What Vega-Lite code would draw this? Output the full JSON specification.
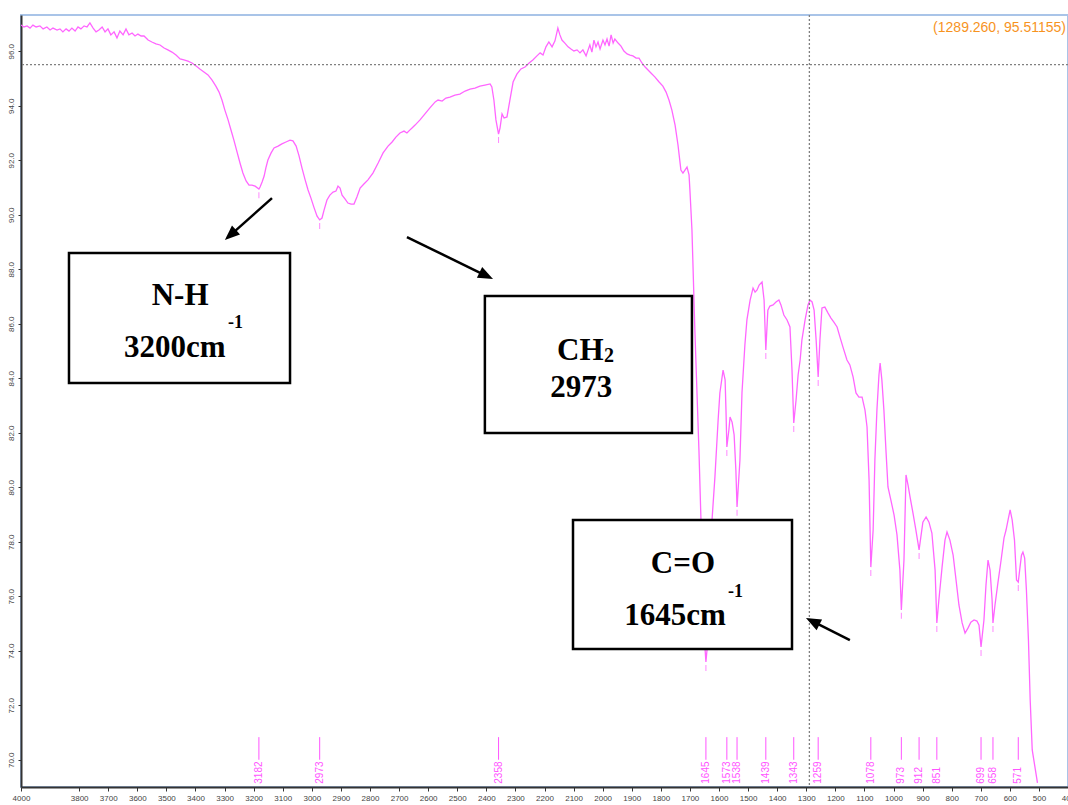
{
  "$schema": "https://vega.github.io/schema/vega-lite/v6.json",
  "width": 1047,
  "height": 772,
  "autosize": "none",
  "padding": {"left": 21, "top": 15, "right": 0, "bottom": 18},
  "background": "white",
  "config": {
    "view": {"stroke": "#a9c4e8", "strokeWidth": 2},
    "axis": {"grid": false, "title": null, "labelFont": "Liberation Sans", "labelFontSize": 8, "labelColor": "#444", "domainColor": "#333", "domainWidth": 2, "tickColor": "#333", "tickSize": 3}
  },
  "datasets": {
    "one": [{}],
    "spectrum": [
      {"wn":4000,"t":96.96},{"wn":3990,"t":96.89},{"wn":3979,"t":96.93},{"wn":3969,"t":96.85},{"wn":3959,"t":96.96},{"wn":3948,"t":96.89},{"wn":3935,"t":96.93},{"wn":3924,"t":96.82},{"wn":3911,"t":96.89},{"wn":3900,"t":96.78},{"wn":3890,"t":96.85},{"wn":3876,"t":96.78},{"wn":3866,"t":96.82},{"wn":3856,"t":96.71},{"wn":3845,"t":96.82},{"wn":3835,"t":96.74},{"wn":3825,"t":96.85},{"wn":3814,"t":96.74},{"wn":3804,"t":96.89},{"wn":3794,"t":96.82},{"wn":3783,"t":96.93},{"wn":3773,"t":96.89},{"wn":3763,"t":97.04},{"wn":3752,"t":96.85},{"wn":3742,"t":96.71},{"wn":3732,"t":96.78},{"wn":3721,"t":96.89},{"wn":3711,"t":96.71},{"wn":3701,"t":96.82},{"wn":3691,"t":96.6},{"wn":3680,"t":96.71},{"wn":3670,"t":96.49},{"wn":3660,"t":96.74},{"wn":3649,"t":96.6},{"wn":3639,"t":96.82},{"wn":3629,"t":96.6},{"wn":3618,"t":96.67},{"wn":3608,"t":96.56},{"wn":3598,"t":96.63},{"wn":3587,"t":96.56},{"wn":3577,"t":96.56},{"wn":3563,"t":96.41},{"wn":3550,"t":96.34},{"wn":3536,"t":96.27},{"wn":3522,"t":96.23},{"wn":3508,"t":96.12},{"wn":3495,"t":96.05},{"wn":3481,"t":95.97},{"wn":3467,"t":95.86},{"wn":3453,"t":95.72},{"wn":3440,"t":95.68},{"wn":3426,"t":95.64},{"wn":3412,"t":95.57},{"wn":3398,"t":95.46},{"wn":3385,"t":95.35},{"wn":3371,"t":95.24},{"wn":3357,"t":95.13},{"wn":3343,"t":94.94},{"wn":3330,"t":94.72},{"wn":3319,"t":94.5},{"wn":3309,"t":94.21},{"wn":3299,"t":93.84},{"wn":3288,"t":93.48},{"wn":3278,"t":93.11},{"wn":3268,"t":92.74},{"wn":3257,"t":92.3},{"wn":3247,"t":91.9},{"wn":3237,"t":91.53},{"wn":3226,"t":91.24},{"wn":3216,"t":91.09},{"wn":3206,"t":91.09},{"wn":3195,"t":91.05},{"wn":3182,"t":90.94},{"wn":3178,"t":91.02},{"wn":3171,"t":91.2},{"wn":3164,"t":91.42},{"wn":3158,"t":91.72},{"wn":3151,"t":92.01},{"wn":3140,"t":92.27},{"wn":3130,"t":92.45},{"wn":3116,"t":92.52},{"wn":3103,"t":92.6},{"wn":3089,"t":92.67},{"wn":3075,"t":92.74},{"wn":3065,"t":92.71},{"wn":3054,"t":92.52},{"wn":3044,"t":92.16},{"wn":3034,"t":91.72},{"wn":3023,"t":91.28},{"wn":3013,"t":90.91},{"wn":3003,"t":90.61},{"wn":2993,"t":90.28},{"wn":2982,"t":89.95},{"wn":2973,"t":89.81},{"wn":2965,"t":89.88},{"wn":2958,"t":90.17},{"wn":2948,"t":90.54},{"wn":2938,"t":90.72},{"wn":2927,"t":90.83},{"wn":2917,"t":90.87},{"wn":2910,"t":91.05},{"wn":2903,"t":90.98},{"wn":2896,"t":90.72},{"wn":2886,"t":90.58},{"wn":2876,"t":90.43},{"wn":2865,"t":90.39},{"wn":2855,"t":90.39},{"wn":2845,"t":90.65},{"wn":2834,"t":90.98},{"wn":2821,"t":91.13},{"wn":2807,"t":91.28},{"wn":2790,"t":91.53},{"wn":2772,"t":91.9},{"wn":2755,"t":92.27},{"wn":2738,"t":92.52},{"wn":2724,"t":92.67},{"wn":2711,"t":92.85},{"wn":2697,"t":93.0},{"wn":2683,"t":93.07},{"wn":2673,"t":93.0},{"wn":2659,"t":93.15},{"wn":2645,"t":93.29},{"wn":2628,"t":93.48},{"wn":2611,"t":93.7},{"wn":2594,"t":93.92},{"wn":2576,"t":94.14},{"wn":2566,"t":94.21},{"wn":2552,"t":94.17},{"wn":2539,"t":94.28},{"wn":2525,"t":94.32},{"wn":2508,"t":94.39},{"wn":2491,"t":94.43},{"wn":2473,"t":94.54},{"wn":2456,"t":94.61},{"wn":2439,"t":94.65},{"wn":2422,"t":94.72},{"wn":2405,"t":94.76},{"wn":2387,"t":94.8},{"wn":2381,"t":94.69},{"wn":2374,"t":94.21},{"wn":2367,"t":93.48},{"wn":2358,"t":92.96},{"wn":2353,"t":93.18},{"wn":2346,"t":93.7},{"wn":2339,"t":93.55},{"wn":2329,"t":93.59},{"wn":2319,"t":94.21},{"wn":2308,"t":94.87},{"wn":2295,"t":95.16},{"wn":2281,"t":95.35},{"wn":2267,"t":95.42},{"wn":2253,"t":95.57},{"wn":2240,"t":95.68},{"wn":2226,"t":95.83},{"wn":2215,"t":95.94},{"wn":2205,"t":95.86},{"wn":2195,"t":96.16},{"wn":2185,"t":96.34},{"wn":2174,"t":96.16},{"wn":2164,"t":96.38},{"wn":2154,"t":96.85},{"wn":2147,"t":96.6},{"wn":2140,"t":96.41},{"wn":2130,"t":96.3},{"wn":2119,"t":96.16},{"wn":2109,"t":96.08},{"wn":2099,"t":96.01},{"wn":2088,"t":96.05},{"wn":2078,"t":95.94},{"wn":2068,"t":96.05},{"wn":2057,"t":95.83},{"wn":2050,"t":96.05},{"wn":2044,"t":96.23},{"wn":2037,"t":95.97},{"wn":2030,"t":96.41},{"wn":2023,"t":96.16},{"wn":2016,"t":96.34},{"wn":2009,"t":96.08},{"wn":1999,"t":96.41},{"wn":1992,"t":96.23},{"wn":1985,"t":96.45},{"wn":1978,"t":96.19},{"wn":1971,"t":96.6},{"wn":1964,"t":96.3},{"wn":1958,"t":96.45},{"wn":1947,"t":96.3},{"wn":1937,"t":96.19},{"wn":1927,"t":96.01},{"wn":1916,"t":95.9},{"wn":1906,"t":95.86},{"wn":1896,"t":95.83},{"wn":1885,"t":95.75},{"wn":1875,"t":95.75},{"wn":1865,"t":95.57},{"wn":1854,"t":95.42},{"wn":1844,"t":95.31},{"wn":1834,"t":95.2},{"wn":1820,"t":95.05},{"wn":1806,"t":94.87},{"wn":1793,"t":94.72},{"wn":1782,"t":94.5},{"wn":1772,"t":94.21},{"wn":1762,"t":93.84},{"wn":1751,"t":93.29},{"wn":1741,"t":92.56},{"wn":1731,"t":91.64},{"wn":1724,"t":91.53},{"wn":1717,"t":91.64},{"wn":1710,"t":91.75},{"wn":1703,"t":91.46},{"wn":1700,"t":90.91},{"wn":1693,"t":89.44},{"wn":1689,"t":87.97},{"wn":1683,"t":85.77},{"wn":1676,"t":83.57},{"wn":1669,"t":81.37},{"wn":1662,"t":78.8},{"wn":1655,"t":76.23},{"wn":1650,"t":74.39},{"wn":1645,"t":73.59},{"wn":1638,"t":74.39},{"wn":1631,"t":76.6},{"wn":1624,"t":78.8},{"wn":1614,"t":80.38},{"wn":1603,"t":82.47},{"wn":1597,"t":83.46},{"wn":1586,"t":84.3},{"wn":1579,"t":83.94},{"wn":1576,"t":82.83},{"wn":1573,"t":81.48},{"wn":1566,"t":82.1},{"wn":1562,"t":82.58},{"wn":1555,"t":82.39},{"wn":1548,"t":81.92},{"wn":1542,"t":80.63},{"wn":1538,"t":79.28},{"wn":1528,"t":81.0},{"wn":1521,"t":83.46},{"wn":1511,"t":85.22},{"wn":1504,"t":86.14},{"wn":1493,"t":86.87},{"wn":1483,"t":87.31},{"wn":1476,"t":87.16},{"wn":1469,"t":87.24},{"wn":1462,"t":87.42},{"wn":1452,"t":87.53},{"wn":1445,"t":86.87},{"wn":1439,"t":85.04},{"wn":1432,"t":86.5},{"wn":1425,"t":86.65},{"wn":1414,"t":86.69},{"wn":1404,"t":86.8},{"wn":1394,"t":86.87},{"wn":1387,"t":86.69},{"wn":1377,"t":86.32},{"wn":1366,"t":86.14},{"wn":1356,"t":85.88},{"wn":1349,"t":84.3},{"wn":1343,"t":82.36},{"wn":1335,"t":83.2},{"wn":1328,"t":84.12},{"wn":1321,"t":84.67},{"wn":1315,"t":85.4},{"wn":1304,"t":86.14},{"wn":1294,"t":86.69},{"wn":1287,"t":86.87},{"wn":1280,"t":86.8},{"wn":1273,"t":86.5},{"wn":1266,"t":85.4},{"wn":1259,"t":84.05},{"wn":1253,"t":85.4},{"wn":1246,"t":86.58},{"wn":1236,"t":86.61},{"wn":1225,"t":86.39},{"wn":1215,"t":86.21},{"wn":1205,"t":86.06},{"wn":1194,"t":85.88},{"wn":1184,"t":85.51},{"wn":1174,"t":85.15},{"wn":1160,"t":84.67},{"wn":1150,"t":84.49},{"wn":1139,"t":84.05},{"wn":1129,"t":83.46},{"wn":1119,"t":83.31},{"wn":1108,"t":83.31},{"wn":1098,"t":82.83},{"wn":1091,"t":82.21},{"wn":1084,"t":80.27},{"wn":1078,"t":77.07},{"wn":1070,"t":78.43},{"wn":1064,"t":81.0},{"wn":1057,"t":82.83},{"wn":1050,"t":84.12},{"wn":1046,"t":84.56},{"wn":1040,"t":83.94},{"wn":1033,"t":82.83},{"wn":1026,"t":81.37},{"wn":1019,"t":80.01},{"wn":1009,"t":79.53},{"wn":998,"t":78.98},{"wn":988,"t":78.25},{"wn":978,"t":76.96},{"wn":973,"t":75.5},{"wn":964,"t":77.33},{"wn":957,"t":80.45},{"wn":950,"t":80.08},{"wn":943,"t":79.64},{"wn":933,"t":79.05},{"wn":923,"t":78.43},{"wn":912,"t":77.7},{"wn":905,"t":78.25},{"wn":899,"t":78.72},{"wn":888,"t":78.91},{"wn":878,"t":78.72},{"wn":868,"t":78.32},{"wn":857,"t":76.96},{"wn":851,"t":75.02},{"wn":844,"t":75.86},{"wn":833,"t":77.07},{"wn":823,"t":78.06},{"wn":816,"t":78.36},{"wn":806,"t":78.06},{"wn":795,"t":77.51},{"wn":785,"t":76.6},{"wn":775,"t":75.68},{"wn":764,"t":75.02},{"wn":754,"t":74.65},{"wn":744,"t":74.83},{"wn":734,"t":75.05},{"wn":723,"t":75.13},{"wn":713,"t":75.09},{"wn":706,"t":74.94},{"wn":699,"t":74.14},{"wn":689,"t":75.13},{"wn":682,"t":76.41},{"wn":675,"t":77.33},{"wn":668,"t":76.96},{"wn":661,"t":75.86},{"wn":658,"t":75.02},{"wn":651,"t":75.68},{"wn":641,"t":76.49},{"wn":630,"t":77.33},{"wn":620,"t":78.14},{"wn":613,"t":78.43},{"wn":606,"t":78.8},{"wn":599,"t":79.17},{"wn":592,"t":78.8},{"wn":584,"t":78.06},{"wn":577,"t":76.6},{"wn":571,"t":76.52},{"wn":565,"t":77.07},{"wn":560,"t":77.51},{"wn":555,"t":77.62},{"wn":549,"t":77.4},{"wn":543,"t":76.23},{"wn":536,"t":74.39},{"wn":530,"t":72.19},{"wn":523,"t":70.36},{"wn":505,"t":69.15}
    ],
    "peaks": [
      {"wn":3182,"dip":90.94,"label":"3182"},{"wn":2973,"dip":89.81,"label":"2973"},{"wn":2358,"dip":92.96,"label":"2358"},{"wn":1645,"dip":73.59,"label":"1645"},{"wn":1573,"dip":81.48,"label":"1573"},{"wn":1538,"dip":79.28,"label":"1538"},{"wn":1439,"dip":85.04,"label":"1439"},{"wn":1343,"dip":82.36,"label":"1343"},{"wn":1259,"dip":84.05,"label":"1259"},{"wn":1078,"dip":77.07,"label":"1078"},{"wn":973,"dip":75.5,"label":"973"},{"wn":912,"dip":77.7,"label":"912"},{"wn":851,"dip":75.02,"label":"851"},{"wn":699,"dip":74.14,"label":"699"},{"wn":658,"dip":75.02,"label":"658"},{"wn":571,"dip":76.52,"label":"571"}
    ]
  },
  "encoding": {
    "x": {"type": "quantitative", "scale": {"domain": [400, 4000], "reverse": true, "nice": false, "zero": false},
      "axis": {"values": [4000,3800,3700,3600,3500,3400,3300,3200,3100,3000,2900,2800,2700,2600,2500,2400,2300,2200,2100,2000,1900,1800,1700,1600,1500,1400,1300,1200,1100,1000,900,800,700,600,500,400], "format": "d", "tickSize": 4, "labelPadding": 3, "labelFlush": false, "labelOverlap": false}},
    "y": {"type": "quantitative", "scale": {"domain": [69, 97.33], "nice": false, "zero": false},
      "axis": {"values": [70,72,74,76,78,80,82,84,86,88,90,92,94,96], "format": ".1f", "labelAngle": 270, "labelAlign": "center", "labelBaseline": "bottom", "labelPadding": 3}}
  },
  "layer": [
    {"data": {"name": "spectrum"}, "mark": {"type": "line", "color": "#ff66ff", "strokeWidth": 1.3, "clip": true},
      "encoding": {"x": {"field": "wn"}, "y": {"field": "t"}}},
    {"data": {"name": "peaks"}, "mark": {"type": "tick", "orient": "vertical", "size": 6, "thickness": 1, "yOffset": 6, "color": "#ff55ff"},
      "encoding": {"x": {"field": "wn"}, "y": {"field": "dip"}}},
    {"data": {"name": "peaks"}, "mark": {"type": "rule", "color": "#ff55ff", "strokeWidth": 1},
      "encoding": {"x": {"field": "wn"}, "y": {"datum": 70.83}, "y2": {"datum": 70.0}}},
    {"data": {"name": "peaks"}, "mark": {"type": "text", "angle": 270, "align": "left", "baseline": "middle", "fontSize": 10, "font": "Liberation Sans", "color": "#ff55ff"},
      "encoding": {"x": {"field": "wn"}, "y": {"datum": 69.12}, "text": {"field": "label"}}},
    {"data": {"name": "one"}, "mark": {"type": "rule", "color": "#808080", "strokeDash": [2, 2], "strokeWidth": 1.3},
      "encoding": {"x": {"datum": 1289.26}}},
    {"data": {"name": "one"}, "mark": {"type": "rule", "color": "#808080", "strokeDash": [2, 2], "strokeWidth": 1.3},
      "encoding": {"y": {"datum": 95.51155}}},
    {"data": {"name": "one"}, "mark": {"type": "text", "align": "right", "baseline": "middle", "fontSize": 14, "font": "Liberation Sans", "color": "#f7931e", "text": "(1289.260, 95.51155)"},
      "encoding": {"x": {"datum": 407}, "y": {"datum": 96.85}}},
    {"data": {"name": "one"}, "mark": {"type": "rect", "fill": "white", "stroke": "black", "strokeWidth": 2.5},
      "encoding": {"x": {"datum": 3835}, "x2": {"datum": 3075}, "y": {"datum": 88.6}, "y2": {"datum": 83.83}}},
    {"data": {"name": "one"}, "mark": {"type": "rect", "fill": "white", "stroke": "black", "strokeWidth": 2.5},
      "encoding": {"x": {"datum": 2405}, "x2": {"datum": 1693}, "y": {"datum": 87.02}, "y2": {"datum": 81.99}}},
    {"data": {"name": "one"}, "mark": {"type": "rect", "fill": "white", "stroke": "black", "strokeWidth": 2.5},
      "encoding": {"x": {"datum": 2102}, "x2": {"datum": 1349}, "y": {"datum": 78.8}, "y2": {"datum": 74.06}}},
    {"data": {"name": "one"}, "mark": {"type": "text", "align": "center", "baseline": "alphabetic", "fontSize": 31, "fontWeight": "bold", "font": "Liberation Serif", "color": "black", "text": "N-H"},
      "encoding": {"x": {"datum": 3453}, "y": {"datum": 86.69}}},
    {"data": {"name": "one"}, "mark": {"type": "text", "align": "center", "baseline": "alphabetic", "fontSize": 31, "fontWeight": "bold", "font": "Liberation Serif", "color": "black", "text": "3200cm"},
      "encoding": {"x": {"datum": 3471}, "y": {"datum": 84.78}}},
    {"data": {"name": "one"}, "mark": {"type": "text", "align": "left", "baseline": "alphabetic", "fontSize": 18, "fontWeight": "bold", "font": "Liberation Serif", "color": "black", "text": "-1"},
      "encoding": {"x": {"datum": 3288}, "y": {"datum": 85.84}}},
    {"data": {"name": "one"}, "mark": {"type": "text", "align": "left", "baseline": "alphabetic", "fontSize": 31, "fontWeight": "bold", "font": "Liberation Serif", "color": "black", "text": "CH"},
      "encoding": {"x": {"datum": 2157}, "y": {"datum": 84.67}}},
    {"data": {"name": "one"}, "mark": {"type": "text", "align": "left", "baseline": "alphabetic", "fontSize": 20, "fontWeight": "bold", "font": "Liberation Serif", "color": "black", "text": "2"},
      "encoding": {"x": {"datum": 1995}, "y": {"datum": 84.6}}},
    {"data": {"name": "one"}, "mark": {"type": "text", "align": "center", "baseline": "alphabetic", "fontSize": 31, "fontWeight": "bold", "font": "Liberation Serif", "color": "black", "text": "2973"},
      "encoding": {"x": {"datum": 2074}, "y": {"datum": 83.32}}},
    {"data": {"name": "one"}, "mark": {"type": "text", "align": "center", "baseline": "alphabetic", "fontSize": 31, "fontWeight": "bold", "font": "Liberation Serif", "color": "black", "text": "C=O"},
      "encoding": {"x": {"datum": 1724}, "y": {"datum": 76.85}}},
    {"data": {"name": "one"}, "mark": {"type": "text", "align": "center", "baseline": "alphabetic", "fontSize": 31, "fontWeight": "bold", "font": "Liberation Serif", "color": "black", "text": "1645cm"},
      "encoding": {"x": {"datum": 1751}, "y": {"datum": 74.95}}},
    {"data": {"name": "one"}, "mark": {"type": "text", "align": "left", "baseline": "alphabetic", "fontSize": 18, "fontWeight": "bold", "font": "Liberation Serif", "color": "black", "text": "-1"},
      "encoding": {"x": {"datum": 1569}, "y": {"datum": 75.98}}},
    {"data": {"name": "one"}, "mark": {"type": "rule", "color": "black", "strokeWidth": 2.5},
      "encoding": {"x": {"datum": 3137}, "y": {"datum": 90.61}, "x2": {"datum": 3278}, "y2": {"datum": 89.27}}},
    {"data": {"name": "one"}, "mark": {"type": "point", "filled": true, "color": "black", "opacity": 1, "size": 225, "shape": "M0,0L-0.8,2L0.8,2Z", "angle": 228},
      "encoding": {"x": {"datum": 3299}, "y": {"datum": 89.07}}},
    {"data": {"name": "one"}, "mark": {"type": "rule", "color": "black", "strokeWidth": 2.5},
      "encoding": {"x": {"datum": 2673}, "y": {"datum": 89.18}, "x2": {"datum": 2402}, "y2": {"datum": 87.77}}},
    {"data": {"name": "one"}, "mark": {"type": "point", "filled": true, "color": "black", "opacity": 1, "size": 225, "shape": "M0,0L-0.8,2L0.8,2Z", "angle": 116},
      "encoding": {"x": {"datum": 2377}, "y": {"datum": 87.64}}},
    {"data": {"name": "one"}, "mark": {"type": "rule", "color": "black", "strokeWidth": 2.5},
      "encoding": {"x": {"datum": 1150}, "y": {"datum": 74.39}, "x2": {"datum": 1276}, "y2": {"datum": 75.07}}},
    {"data": {"name": "one"}, "mark": {"type": "point", "filled": true, "color": "black", "opacity": 1, "size": 225, "shape": "M0,0L-0.8,2L0.8,2Z", "angle": 297},
      "encoding": {"x": {"datum": 1301}, "y": {"datum": 75.2}}}
  ]
}
